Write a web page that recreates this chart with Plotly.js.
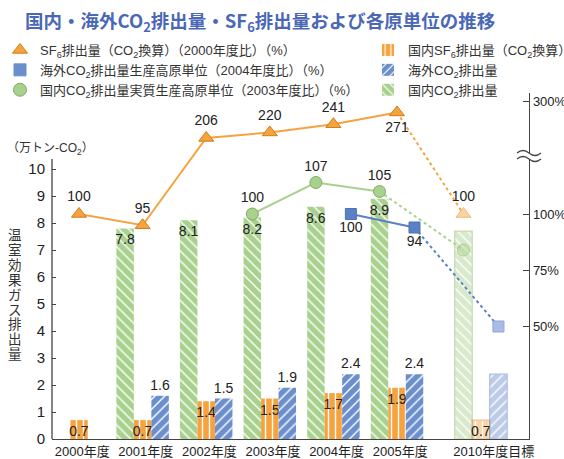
<!DOCTYPE html>
<html><head><meta charset="utf-8">
<script src="https://cdn.plot.ly/plotly-3.0.1.min.js"></script>
<style>html,body{margin:0;padding:0;background:#fff}#chart{width:564px;height:459px}</style>
</head><body><div id="chart"></div>
<script>
// ---- data ----
const years = ['2000年度', '2001年度', '2002年度', '2003年度', '2004年度', '2005年度', '2010年度目標'];
const domesticCO2 = [null, 7.8, 8.1, 8.2, 8.6, 8.9, 7.7];      // 国内CO2排出量 (万トン-CO2)
const domesticSF6 = [0.7, 0.7, 1.4, 1.5, 1.7, 1.9, 0.7];       // 国内SF6排出量 (CO2換算)
const overseasCO2 = [null, 1.6, 1.5, 1.9, 2.4, 2.4, 2.4];      // 海外CO2排出量
const sf6Index = [100, 95, 206, 220, 241, 271, 100];            // (2000年度比) %
const overseasIndex = [null, null, null, null, 100, 94, 50];    // (2004年度比) %
const domesticIndex = [null, null, null, 100, 107, 105, 84];    // (2003年度比) %
const leftTicks = [0, 1, 2, 3, 4, 5, 6, 7, 8, 9, 10];
const rightTicks = [50, 75, 100, 300];
const yTitleChars = ['温', '室', '効', '果', 'ガ', 'ス', '排', '出', '量'];

// ---- layout constants ----
const TARGET = years.length - 1;
const TARGET_GAP = 0.32;
const BARGAP = 0.175;
const BW = (1 - BARGAP) / 3;
const xpos = years.map((_, i) => i < TARGET ? i : i + TARGET_GAP);
const M = {l: 52, r: 35, t: 93, b: 20};
const W = 564, H = 459;
const plotH = H - M.t - M.b;
const PX_LEFT = 27, PX_RIGHT = 2.25;
const pxToY = p => (H - M.b - p) / PX_LEFT;
const pxToY2 = p => (H - M.b - p) / PX_RIGHT;

// right axis has a break above 100%
function toDisplay(v) {
  if (v == null) return null;
  if (v <= 100) return v;
  if (v <= 150) return 100 + (v - 100) * 2;
  return 133.8 + (v - 206) * 0.1745;
}

const GREEN = '#a9d18e', GREEN_D = '#7fae5f';
const ORANGE = '#f6a33f', ORANGE_D = '#cf7d1c';
const BLUE = '#6b8ecd', BLUE_D = '#4d71b4';
const LBL = {family: 'Liberation Sans, Noto Sans CJK JP', size: 14, color: '#222'};

const targetOpacity = years.map((_, i) => i === TARGET ? 0.45 : 1);
const targetLine = years.map((_, i) => i === TARGET ? 1.2 : 0);

function barTrace(name, vals, color, dcolor, shape, rank, labelTarget, pos) {
  return {
    type: 'bar', name: name, x: xpos, y: vals, legend: 'legend2', legendrank: rank,
    marker: {color: color, opacity: targetOpacity, line: {color: dcolor, width: targetLine},
      pattern: {shape: shape, fgcolor: '#ffffff', bgcolor: color, size: 7, solidity: 0.2}},
    text: vals.map((v, i) => (v == null || (i === TARGET && !labelTarget)) ? '' : v.toFixed(1)),
    textposition: pos, insidetextanchor: 'end', textangle: 0, constraintext: 'none',
    insidetextfont: LBL, outsidetextfont: LBL, cliponaxis: false, hoverinfo: 'skip'
  };
}

function range(arr, from, to) { const r = []; for (let i = from; i <= to; i++) if (arr[i] != null) r.push(i); return r; }

function lineSet(vals, from, shift, color, dcolor, symbol, size, tpos, targetTextPos, lightFill, lightLine) {
  const solid = range(vals, from, TARGET - 1);
  const dotted = [TARGET - 1, TARGET];
  const tx = i => xpos[i] + shift(i);
  return [
    {type: 'scatter', mode: 'lines', x: dotted.map(tx), y: dotted.map(i => toDisplay(vals[i])), yaxis: 'y2',
      line: {color: color, width: 2, dash: 'dot'}, showlegend: false, hoverinfo: 'skip'},
    {type: 'scatter', mode: 'lines+markers+text', x: solid.map(tx), y: solid.map(i => toDisplay(vals[i])), yaxis: 'y2',
      line: {color: color, width: 2}, marker: {symbol: symbol, size: size, color: color, line: {color: dcolor, width: 1}},
      text: solid.map(i => String(vals[i])), textposition: tpos, textfont: LBL,
      showlegend: false, hoverinfo: 'skip', cliponaxis: false},
    {type: 'scatter', mode: targetTextPos ? 'markers+text' : 'markers', x: [tx(TARGET)], y: [toDisplay(vals[TARGET])], yaxis: 'y2',
      marker: {symbol: symbol, size: size, color: lightFill, line: {color: lightLine, width: 1}},
      text: [String(vals[TARGET])], textposition: targetTextPos || 'top center', textfont: LBL,
      showlegend: false, hoverinfo: 'skip', cliponaxis: false}
  ];
}

const sf6Pos = sf6Index.map((_, i) => i === TARGET - 1 ? 'bottom center' : 'top center').slice(0, TARGET);

const traces = [
  barTrace('国内CO<sub>2</sub>排出量', domesticCO2, GREEN, GREEN_D, '\\', 3, false, 'inside'),
  barTrace('国内SF<sub>6</sub>排出量（CO<sub>2</sub>換算）', domesticSF6, ORANGE, ORANGE_D, '|', 1, true, 'inside'),
  barTrace('海外CO<sub>2</sub>排出量', overseasCO2, BLUE, BLUE_D, '/', 2, false, 'outside'),
  ...lineSet(sf6Index, 0, i => i === TARGET ? -BW : 0, ORANGE, ORANGE_D, 'triangle-up', 13, sf6Pos, 'top center', '#fbd2a2', '#f2b877'),
  ...lineSet(domesticIndex, 3, () => -BW, GREEN, GREEN_D, 'circle', 12, 'top center', null, 'rgba(169,209,142,0.45)', '#a9d18e'),
  ...lineSet(overseasIndex, 4, () => BW, '#5b80c6', BLUE_D, 'square', 11, 'bottom center', null, '#aabbe5', '#8ea6db'),
  // legend entries for the index series
  {type: 'scatter', mode: 'markers', x: [null], y: [null], yaxis: 'y2', legend: 'legend',
    name: 'SF<sub>6</sub>排出量（CO<sub>2</sub>換算）（2000年度比）（%）',
    marker: {symbol: 'triangle-up', size: 13, color: ORANGE, line: {color: ORANGE_D, width: 1}}},
  {type: 'scatter', mode: 'markers', x: [null], y: [null], yaxis: 'y2', legend: 'legend',
    name: '海外CO<sub>2</sub>排出量生産高原単位（2004年度比）（%）',
    marker: {symbol: 'square', size: 12, color: BLUE, line: {color: BLUE, width: 1}}},
  {type: 'scatter', mode: 'markers', x: [null], y: [null], yaxis: 'y2', legend: 'legend',
    name: '国内CO<sub>2</sub>排出量実質生産高原単位（2003年度比）（%）',
    marker: {symbol: 'circle', size: 13, color: GREEN, line: {color: GREEN_D, width: 1}}}
];

const breakY = pxToY2(156);
const AXC = '#444';

const annotations = [
  {text: '（万トン-CO<sub>2</sub>）', xref: 'paper', yref: 'y', x: (50 - M.l) / (W - M.l - M.r), y: pxToY(149),
    showarrow: false, xanchor: 'center', yanchor: 'middle', font: {size: 12, color: '#333'}},
  ...yTitleChars.map((c, i) => ({text: c, xref: 'paper', yref: 'y', x: (15 - M.l) / (W - M.l - M.r), y: pxToY(234 + i * 14.9),
    showarrow: false, xanchor: 'center', yanchor: 'middle', font: {size: 13.5, color: '#333', family: 'Noto Sans CJK JP'}}))
];

const shapes = [
  {type: 'line', xref: 'paper', yref: 'y', x0: 0, x1: 0, y0: 0, y1: pxToY(159), line: {color: AXC, width: 1.3}},
  {type: 'rect', xref: 'paper', yref: 'y2', xsizemode: 'pixel', xanchor: 1, x0: -4, x1: 4,
    ysizemode: 'pixel', yanchor: breakY, y0: -3, y1: 3, fillcolor: '#fff', line: {width: 0}},
  {type: 'path', xref: 'paper', yref: 'y2', xsizemode: 'pixel', xanchor: 1, ysizemode: 'pixel', yanchor: breakY,
    path: 'M-12,3 Q-6,8 0,3 T12,3 M-12,-3 Q-6,2 0,-3 T12,-3', line: {color: AXC, width: 1.3}}
];

const layout = {
  width: W, height: H, margin: Object.assign({autoexpand: false}, M), paper_bgcolor: '#fff', plot_bgcolor: '#fff',
  font: {family: 'Liberation Sans, Noto Sans CJK JP', color: '#333', size: 13},
  title: {text: '国内・海外CO<sub>2</sub>排出量・SF<sub>6</sub>排出量および各原単位の推移',
    x: 25 / W, xanchor: 'left', xref: 'container', y: 1 - 22 / H, yanchor: 'middle', yref: 'container',
    font: {family: 'Noto Sans CJK JP', size: 18.5, color: '#4a68b6', weight: 'bold'}},
  barmode: 'group', bargap: BARGAP, bargroupgap: 0,
  xaxis: {range: [(M.l - 79) / 63.6, (W - M.r - 79) / 63.6], tickvals: xpos.map((v, i) => v + (i === TARGET ? 0.2 : 0.05)),
    ticktext: years, showline: true, linecolor: AXC, linewidth: 1.3, ticks: '', showgrid: false, zeroline: false,
    tickfont: {size: 13, color: '#222'}, fixedrange: true, automargin: false},
  yaxis: {range: [0, plotH / PX_LEFT], tickvals: leftTicks, ticktext: leftTicks.map(String), ticks: 'inside', ticklen: 4,
    tickcolor: AXC, showline: false, showgrid: false, zeroline: false, tickfont: {size: 15, color: '#222'},
    ticklabelstandoff: 6, fixedrange: true, automargin: false},
  yaxis2: {overlaying: 'y', side: 'right', range: [0, plotH / PX_RIGHT], tickvals: rightTicks.map(toDisplay),
    ticktext: rightTicks.map(v => v + '%'), ticks: 'inside', ticklen: 6, tickcolor: AXC, showline: true, linecolor: AXC,
    linewidth: 1.3, showgrid: false, zeroline: false, tickfont: {size: 13, color: '#222'}, ticklabelstandoff: 0,
    fixedrange: true, automargin: false},
  legend: {xref: 'container', yref: 'container', x: 0, y: 1 - 35 / H, xanchor: 'left', yanchor: 'top',
    bgcolor: 'rgba(0,0,0,0)', font: {size: 13, color: '#333'}, tracegroupgap: 0},
  legend2: {xref: 'container', yref: 'container', x: 368 / W, y: 1 - 35 / H, xanchor: 'left', yanchor: 'top',
    bgcolor: 'rgba(0,0,0,0)', font: {size: 13, color: '#333'}, tracegroupgap: 0, traceorder: 'normal'},
  annotations: annotations, shapes: shapes, showlegend: true
};

Plotly.newPlot('chart', traces, layout, {displayModeBar: false, staticPlot: true});
</script>
</body></html>
